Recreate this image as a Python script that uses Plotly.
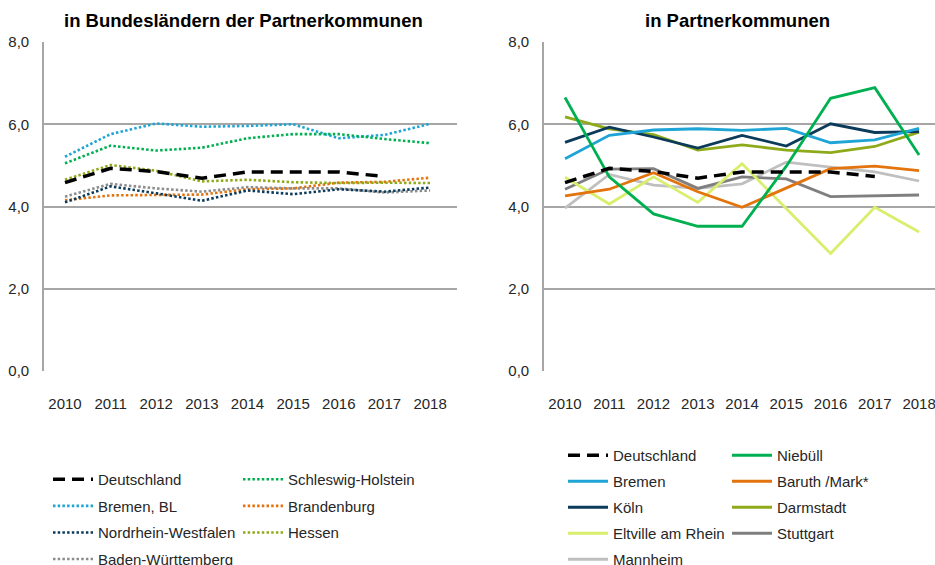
import plotly.graph_objects as go

W, H = 935, 565

years = [2010, 2011, 2012, 2013, 2014, 2015, 2016, 2017, 2018]
y_ticks = [0, 2, 4, 6, 8]

# Left panel: Bundesländer
deutschland = [4.58, 4.93, 4.85, 4.69, 4.84, 4.83, 4.84, 4.73, None]
schleswig_holstein = [5.05, 5.48, 5.36, 5.43, 5.66, 5.76, 5.76, 5.64, 5.54]
bremen_bl = [5.21, 5.76, 6.02, 5.94, 5.96, 6.00, 5.66, 5.74, 6.01]
brandenburg = [4.15, 4.27, 4.28, 4.29, 4.42, 4.44, 4.58, 4.60, 4.70]
nrw = [4.10, 4.49, 4.32, 4.14, 4.39, 4.30, 4.42, 4.36, 4.46]
hessen = [4.65, 5.01, 4.87, 4.61, 4.65, 4.59, 4.57, 4.58, 4.57]
baden_wuerttemberg = [4.24, 4.55, 4.44, 4.36, 4.47, 4.44, 4.44, 4.34, 4.39]

# Right panel: Partnerkommunen
niebuell = [6.65, 4.72, 3.82, 3.52, 3.52, 4.98, 6.63, 6.89, 5.25]
bremen = [5.16, 5.73, 5.86, 5.89, 5.85, 5.90, 5.55, 5.62, 5.90]
koeln = [5.56, 5.93, 5.69, 5.42, 5.73, 5.47, 6.01, 5.80, 5.82]
darmstadt = [6.18, 5.89, 5.75, 5.37, 5.50, 5.37, 5.31, 5.46, 5.81]
baruth = [4.26, 4.42, 4.82, 4.36, 3.98, 4.44, 4.92, 4.98, 4.87]
eltville = [4.71, 4.06, 4.72, 4.10, 5.04, 3.95, 2.86, 3.98, 3.38]
stuttgart = [4.42, 4.91, 4.92, 4.44, 4.72, 4.67, 4.24, 4.26, 4.28]
mannheim = [3.96, 4.78, 4.52, 4.44, 4.55, 5.08, 4.96, 4.84, 4.62]

C_BLACK = "#000000"
C_GREEN = "#00B050"
C_BLUE = "#1FA5D5"
C_ORANGE = "#E3730C"
C_NAVY = "#0B3A5A"
C_OLIVE = "#8EAA1A"
C_LIME = "#D9EE6C"
C_GRAY = "#7F7F7F"
C_LGRAY = "#BFBFBF"
C_BWGRAY = "#8C8C8C"

FONT = "Liberation Sans, Arial, sans-serif"
TXT = "#262626"


def px_x(p):
    return p / W


def px_y(p):
    return 1 - p / H


fig = go.Figure()

DASH_DE = "12px,7px"
DOT = "2.5px,2.2px"


def add(x, y, name, color, dash, width, axis, legend, rank):
    fig.add_trace(go.Scatter(
        x=x, y=y, name=name, mode="lines",
        line=dict(color=color, dash=dash, width=width),
        xaxis="x" + axis, yaxis="y" + axis,
        legend=legend, legendgroup=legend + str(rank), legendrank=rank,
        connectgaps=False, hoverinfo="skip",
    ))


# left panel
add(years, bremen_bl, "Bremen, BL", C_BLUE, DOT, 2.6, "", "legend", 2)
add(years, schleswig_holstein, "Schleswig-Holstein", C_GREEN, DOT, 2.6, "", "legend2", 1)
add(years, brandenburg, "Brandenburg", C_ORANGE, DOT, 2.6, "", "legend2", 2)
add(years, hessen, "Hessen", C_OLIVE, DOT, 2.6, "", "legend2", 3)
add(years, baden_wuerttemberg, "Baden-Württemberg", C_BWGRAY, DOT, 2.6, "", "legend", 4)
add(years, nrw, "Nordrhein-Westfalen", C_NAVY, DOT, 2.6, "", "legend", 3)
add(years, deutschland, "Deutschland", C_BLACK, DASH_DE, 3.5, "", "legend", 1)

# right panel
add(years, mannheim, "Mannheim", C_LGRAY, "solid", 2.8, "2", "legend3", 5)
add(years, stuttgart, "Stuttgart", C_GRAY, "solid", 2.8, "2", "legend4", 4)
add(years, eltville, "Eltville am Rhein", C_LIME, "solid", 2.8, "2", "legend3", 4)
add(years, baruth, "Baruth /Mark*", C_ORANGE, "solid", 2.8, "2", "legend4", 2)
add(years, darmstadt, "Darmstadt", C_OLIVE, "solid", 2.8, "2", "legend4", 3)
add(years, koeln, "Köln", C_NAVY, "solid", 2.8, "2", "legend3", 3)
add(years, bremen, "Bremen", C_BLUE, "solid", 2.8, "2", "legend3", 2)
add(years, niebuell, "Niebüll", C_GREEN, "solid", 2.8, "2", "legend4", 1)
add(years, deutschland, "Deutschland", C_BLACK, DASH_DE, 3.5, "2", "legend3", 1)

axis_font = dict(family=FONT, size=15, color=TXT)
grid = "#A6A6A6"


def yax():
    return dict(
        range=[0, 8], tickvals=y_ticks, tickformat=".1f",
        domain=[px_y(371), px_y(42)],
        showgrid=True, gridcolor=grid, gridwidth=1.6,
        showline=True, linecolor=grid, linewidth=1.6,
        zeroline=False, ticks="", tickfont=axis_font,
        ticklabelstandoff=10, ticklabeloverflow="allow", fixedrange=True,
    )


def xax(d0, d1, r0, r1):
    return dict(
        range=[r0, r1], domain=[px_x(d0), px_x(d1)],
        tickvals=years, ticktext=[str(v) for v in years],
        showgrid=False, showline=False, zeroline=False, ticks="",
        tickfont=axis_font, ticklabelstandoff=22,
        ticklabeloverflow="allow", fixedrange=True,
    )


leg_font = dict(family=FONT, size=15, color=TXT)


def leg(xp, yp, gap):
    return dict(
        x=px_x(xp), y=px_y(yp), xanchor="left", yanchor="top",
        orientation="v", traceorder="grouped", tracegroupgap=gap,
        itemwidth=40, font=leg_font, bgcolor="rgba(0,0,0,0)",
        borderwidth=0, itemclick=False, itemdoubleclick=False,
    )


fig.update_layout(
    width=W, height=H,
    margin=dict(l=0, r=0, t=0, b=0, autoexpand=False),
    paper_bgcolor="white", plot_bgcolor="white",
    separators=",.",
    font=dict(family=FONT, color=TXT),
    showlegend=True,
    xaxis={**xax(44, 457, 2009.54, 2018.59), "anchor": "y"},
    yaxis={**yax(), "anchor": "x"},
    xaxis2={**xax(544, 935, 2009.525, 2018.36), "anchor": "y2"},
    yaxis2={**yax(), "anchor": "x2"},
    legend=leg(48, 463, 4.1),
    legend2=leg(238, 463, 4.1),
    legend3=leg(563, 439, 3.5),
    legend4=leg(727, 439, 3.5),
    annotations=[
        dict(text="<b>in Bundesländern der Partnerkommunen</b>", x=px_x(243), y=px_y(20),
             xref="paper", yref="paper", showarrow=False, xanchor="center", yanchor="middle",
             font=dict(family=FONT, size=18.5, color="#000000")),
        dict(text="<b>in Partnerkommunen</b>", x=px_x(737), y=px_y(20),
             xref="paper", yref="paper", showarrow=False, xanchor="center", yanchor="middle",
             font=dict(family=FONT, size=18.5, color="#000000")),
    ],
)

fig.write_html("out.html", post_script="document.body.style.margin='0';",
               config={"displayModeBar": False})
